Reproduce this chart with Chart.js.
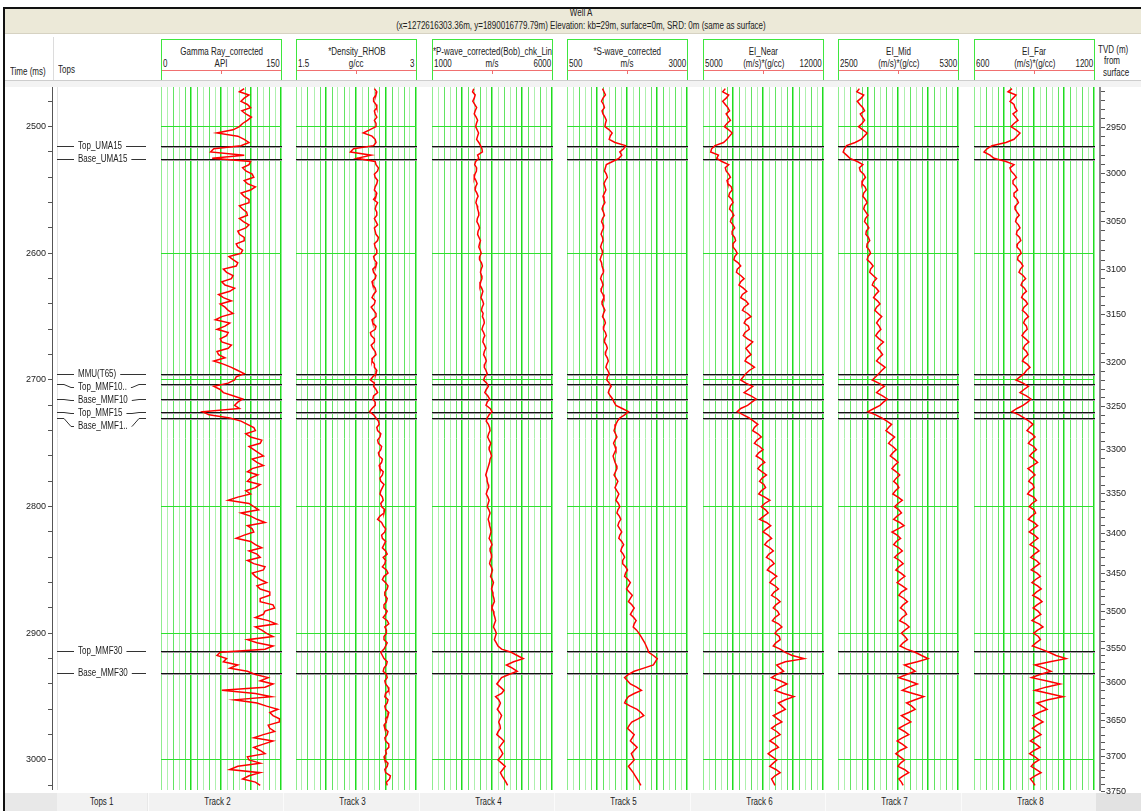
<!DOCTYPE html>
<html>
<head>
<meta charset="utf-8">
<script src="https://cdn.jsdelivr.net/npm/chart.js@4.4.1/dist/chart.umd.min.js"></script>
<style>
  body { margin: 0; background: #fff; }
  #page { position: relative; width: 1141px; height: 811px; overflow: hidden; background: #fff;
          font-family: "Liberation Sans", Arial, sans-serif; font-size: 10px; color: #222; }
  #page div, #page canvas { position: absolute; }
  #page div { white-space: nowrap; line-height: 12px; }
  #page span { display: inline-block; transform: scaleX(0.8); }
</style>
</head>
<body>
<div id="page"></div>
<script>
// two-way time samples (ms) shared by all logs
const times = [
  2470,2472.5,2475,2477.5,2480,2482.5,2485,2487.5,2490,2492.5,2495,2497.5,2500,2502.5,2505,2507.5,2510,2512.5,2515,2517.5,
  2520,2522.5,2525,2527.5,2530,2532.5,2535,2537.5,2540,2542.5,2545,2547.5,2550,2552.5,2555,2557.5,2560,2562.5,2565,2567.5,
  2570,2572.5,2575,2577.5,2580,2582.5,2585,2587.5,2590,2592.5,2595,2597.5,2600,2602.5,2605,2607.5,2610,2612.5,2615,2617.5,
  2620,2622.5,2625,2627.5,2630,2632.5,2635,2637.5,2640,2642.5,2645,2647.5,2650,2652.5,2655,2657.5,2660,2662.5,2665,2667.5,
  2670,2672.5,2675,2677.5,2680,2682.5,2685,2687.5,2690,2692.5,2695,2697.5,2700,2702.5,2705,2707.5,2710,2712.5,2715,2717.5,
  2720,2722.5,2725,2727.5,2730,2732.5,2735,2737.5,2740,2742.5,2745,2747.5,2750,2752.5,2755,2757.5,2760,2762.5,2765,2767.5,
  2770,2772.5,2775,2777.5,2780,2782.5,2785,2787.5,2790,2792.5,2795,2797.5,2800,2802.5,2805,2807.5,2810,2812.5,2815,2817.5,
  2820,2822.5,2825,2827.5,2830,2832.5,2835,2837.5,2840,2842.5,2845,2847.5,2850,2852.5,2855,2857.5,2860,2862.5,2865,2867.5,
  2870,2872.5,2875,2877.5,2880,2882.5,2885,2887.5,2890,2892.5,2895,2897.5,2900,2902.5,2905,2907.5,2910,2912.5,2915,2917.5,
  2920,2922.5,2925,2927.5,2930,2932.5,2935,2937.5,2940,2942.5,2945,2947.5,2950,2952.5,2955,2957.5,2960,2962.5,2965,2967.5,
  2970,2972.5,2975,2977.5,2980,2982.5,2985,2987.5,2990,2992.5,2995,2997.5,3000,3002.5,3005,3007.5,3010,3012.5,3015,3017.5,
  3020
];

const gammaRay = [
  104,98,110,104,100,108,112,101,106,113,108,102,98,90,70,96,104,110,100,66,
  62,104,64,112,110,102,106,114,116,104,108,118,112,100,104,110,110,98,102,107,
  108,98,103,110,106,96,98,104,104,94,96,102,100,85,90,96,94,78,82,90,
  88,76,80,92,86,72,78,88,74,80,84,90,76,68,86,80,70,84,82,74,
  76,88,84,70,72,80,66,78,88,96,104,94,92,84,66,74,78,90,102,96,
  92,98,52,60,86,100,108,116,118,106,112,126,124,110,116,122,128,114,120,128,
  114,108,121,112,108,124,118,106,112,96,84,110,116,122,100,112,120,130,108,114,
  116,104,94,112,118,126,110,120,124,108,116,130,128,114,118,124,132,120,124,136,
  136,124,124,140,142,130,128,118,134,144,118,126,132,140,108,120,140,130,74,70,
  82,78,96,86,108,118,134,124,140,130,76,118,138,92,120,132,146,136,140,148,
  148,134,136,142,128,116,140,128,116,124,130,108,110,124,96,86,124,110,102,118,
  124
];

const density = [
  2.48,2.51,2.50,2.47,2.47,2.50,2.51,2.48,2.49,2.51,2.48,2.50,2.50,2.42,2.34,2.45,2.49,2.50,2.47,2.22,
  2.18,2.44,2.26,2.49,2.50,2.53,2.52,2.48,2.49,2.52,2.51,2.49,2.48,2.51,2.50,2.47,2.52,2.50,2.49,2.51,
  2.51,2.48,2.50,2.52,2.48,2.49,2.50,2.53,2.52,2.48,2.49,2.51,2.51,2.47,2.48,2.51,2.50,2.46,2.47,2.50,
  2.49,2.45,2.46,2.49,2.50,2.47,2.45,2.49,2.48,2.44,2.47,2.50,2.50,2.45,2.46,2.50,2.49,2.43,2.44,2.48,
  2.48,2.44,2.46,2.49,2.50,2.46,2.45,2.48,2.48,2.51,2.50,2.46,2.43,2.48,2.47,2.50,2.52,2.47,2.46,2.49,
  2.49,2.45,2.42,2.47,2.50,2.53,2.54,2.51,2.52,2.56,2.55,2.52,2.53,2.57,2.56,2.53,2.54,2.58,2.57,2.54,
  2.55,2.59,2.58,2.55,2.56,2.60,2.58,2.56,2.55,2.58,2.59,2.56,2.57,2.61,2.60,2.55,2.52,2.57,2.59,2.62,
  2.61,2.57,2.58,2.62,2.60,2.58,2.62,2.64,2.59,2.62,2.61,2.58,2.63,2.65,2.60,2.58,2.62,2.65,2.64,2.61,
  2.61,2.64,2.63,2.60,2.60,2.64,2.62,2.59,2.64,2.66,2.61,2.63,2.63,2.60,2.60,2.64,2.62,2.60,2.56,2.58,
  2.60,2.64,2.63,2.60,2.59,2.63,2.64,2.61,2.62,2.65,2.66,2.62,2.61,2.65,2.64,2.61,2.62,2.66,2.65,2.62,
  2.63,2.60,2.61,2.65,2.64,2.61,2.62,2.66,2.66,2.62,2.63,2.60,2.61,2.65,2.64,2.61,2.62,2.68,2.67,2.63,
  2.64
];

const pWave = [
  2740,2690,2800,2760,2700,2780,2860,2800,2760,2840,2900,2850,2820,2880,2940,2900,2860,2950,3020,3080,
  3100,2900,2950,2820,2780,2860,2850,2790,2760,2830,2880,2820,2800,2870,2920,2860,2830,2880,2900,2940,
  2950,2890,2870,2940,2980,2920,2900,2960,3020,2980,2950,3010,3050,2990,2980,3060,3100,3050,3020,3060,
  3080,3030,3000,3070,3120,3080,3040,3110,3150,3090,3060,3130,3100,3160,3180,3120,3080,3150,3200,3140,
  3120,3190,3240,3180,3150,3220,3260,3200,3180,3250,3300,3200,3150,3280,3350,3260,3200,3320,3400,3300,
  3250,3420,3500,3380,3300,3260,3350,3400,3420,3360,3320,3380,3450,3400,3380,3440,3480,3420,3400,3360,
  3320,3280,3240,3290,3300,3340,3360,3300,3260,3330,3380,3340,3300,3370,3420,3380,3340,3380,3400,3440,
  3460,3420,3380,3450,3500,3440,3420,3470,3480,3430,3400,3470,3520,3480,3440,3510,3560,3520,3480,3530,
  3540,3580,3600,3540,3500,3560,3580,3620,3650,3600,3560,3630,3680,3640,3600,3680,3750,3900,4300,4550,
  4800,4400,4100,4350,4550,4200,3900,3800,3700,3850,4000,3900,3650,3780,3850,3800,3720,3820,3900,3840,
  3780,3830,3850,3760,3700,3860,4000,3900,3800,3880,3950,3860,3750,3900,4050,3950,3850,3920,4000,4080,
  4150
];

const sWave = [
  1240,1270,1300,1250,1220,1260,1280,1230,1250,1290,1320,1300,1290,1380,1440,1400,1380,1500,1720,1680,
  1600,1640,1580,1450,1320,1300,1280,1320,1340,1300,1270,1290,1310,1280,1250,1270,1290,1250,1230,1260,
  1280,1240,1220,1250,1260,1230,1210,1240,1250,1220,1200,1230,1240,1210,1190,1220,1230,1250,1260,1220,
  1200,1230,1250,1220,1210,1250,1270,1240,1230,1260,1290,1260,1240,1280,1300,1270,1260,1300,1320,1290,
  1280,1320,1340,1310,1300,1340,1360,1330,1310,1350,1380,1340,1330,1380,1420,1380,1360,1400,1450,1480,
  1520,1650,1780,1700,1600,1550,1520,1500,1480,1510,1540,1500,1470,1500,1520,1490,1460,1480,1500,1530,
  1540,1510,1480,1520,1560,1530,1500,1540,1580,1550,1520,1570,1600,1560,1540,1590,1620,1580,1560,1600,
  1640,1600,1580,1640,1680,1640,1620,1670,1700,1660,1660,1720,1760,1720,1700,1770,1820,1780,1740,1800,
  1860,1820,1780,1850,1900,1860,1820,1890,1940,1900,1880,1950,2000,2040,2080,2120,2150,2180,2200,2300,
  2380,2340,2300,2100,1900,1780,1700,1760,1820,1950,2050,1900,1780,1730,1700,1820,1960,2040,2100,1980,
  1850,1800,1760,1830,1900,1860,1820,1890,1960,1900,1840,1870,1900,1840,1780,1830,1880,1920,1960,2000,
  2040
];

const eiNear = [
  6300,6150,6500,6350,6150,6300,6450,6550,6350,6480,6600,6400,6250,6500,6700,6550,6400,6200,5700,5500,
  5450,5900,5800,6100,6500,6300,6350,6500,6600,6400,6450,6650,6700,6550,6500,6680,6750,6600,6550,6700,
  6800,6650,6600,6750,6850,6700,6700,6850,6900,6750,6750,6900,7000,6850,6800,7050,7200,7000,6950,7200,
  7400,7200,7100,7350,7550,7300,7200,7500,7650,7400,7300,7600,7800,7500,7400,7650,7700,7450,7350,7600,
  7900,7700,7500,7650,7800,7550,7450,7750,8000,7700,7500,7350,7200,7500,7900,7650,7400,7800,8100,7850,
  7600,7200,7000,7350,7700,7950,8200,8000,7900,8200,8400,8150,8000,8300,8500,8250,8100,8400,8600,8350,
  8200,8450,8700,8450,8300,8550,8650,8400,8250,8600,8900,8600,8400,8650,8800,8550,8300,8700,8950,8700,
  8500,8800,9000,8750,8600,8900,9100,8850,8700,9000,9150,8900,8750,9050,9300,9050,8900,9200,9400,9150,
  9000,9300,9500,9250,9100,9350,9450,9200,9050,9400,9600,9350,9200,9450,9500,9250,9100,9500,9800,10200,
  10900,9800,9300,9500,9700,9300,9000,9500,9900,9500,9200,9700,10300,9800,9400,9600,9800,9450,9100,9350,
  9600,9250,9000,9300,9500,9150,8900,9200,9400,9050,8800,9050,9300,9100,8900,9250,9500,9200,9000,9100,
  9200
];

const eiMid = [
  3000,2940,3100,3040,2950,3010,3080,3120,3020,3070,3120,3060,2980,3080,3180,3110,3040,2900,2700,2650,
  2620,2700,2780,2950,3080,3000,3020,3100,3140,3080,3060,3130,3160,3100,3080,3140,3180,3120,3100,3150,
  3200,3140,3120,3180,3220,3160,3150,3210,3240,3180,3170,3230,3260,3200,3180,3260,3320,3260,3240,3320,
  3400,3330,3300,3390,3450,3380,3330,3420,3480,3400,3360,3440,3520,3450,3400,3460,3500,3430,3380,3460,
  3560,3480,3420,3490,3540,3460,3400,3500,3600,3520,3450,3380,3300,3450,3580,3480,3400,3540,3650,3560,
  3480,3340,3200,3380,3520,3640,3750,3680,3620,3720,3820,3740,3680,3780,3860,3780,3720,3820,3900,3820,
  3760,3860,3940,3860,3800,3880,3920,3840,3780,3900,4000,3900,3820,3920,3980,3880,3800,3940,4040,3900,
  3760,3880,3960,3860,3800,3920,4000,3900,3820,3940,4020,3920,3850,3970,4060,3960,3880,4000,4100,3980,
  3920,4040,4120,4020,3960,4060,4100,4000,3940,4080,4160,4060,3980,4060,4120,4020,3950,4100,4300,4450,
  4600,4350,4050,4200,4300,4100,3920,4150,4350,4150,4000,4250,4500,4300,4100,4220,4300,4150,3980,4100,
  4200,4050,3920,4050,4150,4000,3880,4000,4100,3950,3850,3950,4050,3960,3900,4050,4150,4020,3920,3980,
  4020
];

const eiFar = [
  790,770,810,795,780,800,805,815,795,808,820,800,785,810,830,815,800,760,690,665,
  650,680,700,760,800,780,785,800,812,795,795,810,818,800,800,815,822,808,805,815,
  826,812,808,822,830,815,812,828,834,818,815,830,836,820,818,835,845,832,825,845,
  858,842,835,852,862,845,838,858,868,850,842,860,872,855,848,862,866,850,840,858,
  874,855,846,862,870,852,842,866,880,862,850,830,810,845,872,850,830,862,885,868,
  845,815,790,825,850,875,895,878,865,890,905,885,872,898,912,892,878,900,918,895,
  870,890,905,885,874,895,900,880,868,898,912,890,876,900,908,888,872,900,918,895,
  876,902,920,898,880,908,925,902,884,912,928,905,886,915,932,908,890,918,936,912,
  894,922,940,915,896,920,934,910,890,925,945,918,898,922,932,910,892,935,975,1010,
  1060,980,905,950,985,930,888,960,1030,960,905,975,1045,970,915,940,965,925,895,920,
  945,915,892,915,935,905,882,910,930,900,878,905,925,900,886,910,935,905,882,895,
  905
];

const trackSeries = [gammaRay, density, pWave, sWave, eiNear, eiMid, eiFar];
const trackNames = ['Gamma Ray_corrected', '*Density_RHOB', '*P-wave_corrected(Bob)_chk_Lin',
  '*S-wave_corrected', 'EI_Near', 'EI_Mid', 'EI_Far'];
const trackUnits = ['API', 'g/cc', 'm/s', 'm/s', '(m/s)*(g/cc)', '(m/s)*(g/cc)', '(m/s)*(g/cc)'];
const trackMin = [0, 1.5, 1000, 500, 5000, 2500, 600];
const trackMax = [150, 3, 6000, 3000, 12000, 5300, 1200];
const footerNames = ['Track 2', 'Track 3', 'Track 4', 'Track 5', 'Track 6', 'Track 7', 'Track 8'];

const topNames = ['Top_UMA15', 'Base_UMA15', 'MMU(T65)', 'Top_MMF10..', 'Base_MMF10',
  'Top_MMF15', 'Base_MMF1..', 'Top_MMF30', 'Base_MMF30'];
const topTimes = [2515.3, 2525.7, 2695.4, 2703.3, 2715.2, 2725.0, 2729.7, 2913.9, 2931.0];

const timeLabels = [2500, 2600, 2700, 2800, 2900, 3000];
const tvdLabels = [2950, 3000, 3050, 3100, 3150, 3200, 3250, 3300, 3350, 3400, 3450,
  3500, 3550, 3600, 3650, 3700, 3750];
const tvdTimes = [2500.8, 2536.8, 2574.7, 2613.1, 2648.6, 2686.5, 2721.0, 2755.2, 2789.9,
  2821.5, 2853.1, 2882.9, 2912.3, 2939.2, 2968.9, 2997.4, 3025.0];

// ---- layout ----
const timeMin = 2468.7, timeMax = 3023.7;
const plotTop = 87, plotH = 703;
const trackLeft = [161, 296, 432, 567, 703, 838, 974];
const trackW = 120;
const squeeze = 0.8;
const fontFamily = '"Liberation Sans", Arial, sans-serif';
const font = '10px ' + fontFamily;
Chart.defaults.font.family = fontFamily;
Chart.defaults.font.size = 9;
Chart.defaults.color = '#222';

const page = document.getElementById('page');

function box(x, y, w, h, style) {
  const d = document.createElement('div');
  d.style.cssText = `left:${x}px;top:${y}px;width:${w}px;height:${h}px;` + (style || '');
  page.appendChild(d);
  return d;
}

function label(x, y, w, str, align, h, style) {
  align = align || 'left';
  const d = box(x, y, w, h || 12, `text-align:${align};` + (h ? `line-height:${h}px;` : '') + (style || ''));
  const s = document.createElement('span');
  s.textContent = str;
  s.style.transformOrigin = align + ' center';
  d.appendChild(s);
  return d;
}

function makeCanvas(x, y, w, h) {
  const c = document.createElement('canvas');
  c.width = w; c.height = h;
  c.style.cssText = `left:${x}px;top:${y}px;width:${w}px;height:${h}px;`;
  page.appendChild(c);
  return c;
}

// window frame + title band
box(3, 7, 1138, 2, 'background:#111');
box(3, 7, 2, 804, 'background:#111');
box(5, 9, 1136, 24, 'background:#ece9d8');
box(5, 33, 1136, 1, 'background:#d6d2c2');
label(481, 7, 200, 'Well A', 'center');
label(181, 20, 800, '(x=1272616303.36m, y=1890016779.79m) Elevation: kb=29m, surface=0m, SRD: 0m (same as surface)', 'center');

// header row
box(53, 37, 1, 43, 'background:#dcdcdc');
label(10, 66, 50, 'Time (ms)');
label(58, 64, 40, 'Tops');
label(1098, 44, 43, 'TVD (m)');
label(1104, 55, 37, 'from');
label(1103, 67, 38, 'surface');
box(5, 80, 1136, 6, 'background:#f3f3f3;border-top:1px solid #cdcdcd');

trackNames.forEach((name, k) => {
  const L = trackLeft[k];
  box(L, 39, trackW + 1, 41, 'box-sizing:border-box;border:1px solid #3ee63e;border-bottom:none');
  label(L - 60, 46, trackW + 121, name, 'center');
  label(L + 2, 58, 50, String(trackMin[k]));
  label(L - 60, 58, trackW + 121, trackUnits[k], 'center');
  label(L + trackW - 51, 58, 50, String(trackMax[k]), 'right');
  box(L + 1, 70, trackW - 1, 1, 'background:#f07070');
  box(L + trackW / 2, 70, 1, 4, 'background:#f07070');
});

// footer
box(5, 793, 1136, 18, 'background:#e8e8e8');
label(57, 793, 90, 'Tops 1', 'center', 18, 'background:#f2f2f2');
footerNames.forEach((name, k) => {
  label(trackLeft[k] - 13, 793, 134, name, 'center', 18, 'background:#f2f2f2;border-left:1px solid #fbfbfb;padding-left:1px');
});
box(1096, 793, 45, 18, 'background:#e2e2e2');

// black marker lines across every track
const topsLines = {
  id: 'topsLines',
  beforeDatasetsDraw(chart) {
    const { ctx, chartArea: a, scales: { y } } = chart;
    ctx.save();
    ctx.lineWidth = 1;
    topTimes.forEach(t => {
      const py = Math.round(y.getPixelForValue(t)) + 0.5;
      ctx.strokeStyle = '#a0a0a0';
      ctx.beginPath(); ctx.moveTo(a.left, py + 1); ctx.lineTo(a.right + 1, py + 1); ctx.stroke();
      ctx.strokeStyle = '#111';
      ctx.beginPath(); ctx.moveTo(a.left, py); ctx.lineTo(a.right + 1, py); ctx.stroke();
    });
    ctx.restore();
  }
};

// well tops labels with leader lines
const topsLabels = {
  id: 'topsLabels',
  afterDraw(chart) {
    const { ctx, chartArea: a, scales: { y } } = chart;
    ctx.save();
    ctx.font = font;
    ctx.textBaseline = 'middle';
    ctx.lineWidth = 1;
    ctx.strokeStyle = '#e2e2e2';
    ctx.beginPath(); ctx.moveTo(a.left + 5.5, a.top); ctx.lineTo(a.left + 5.5, a.bottom); ctx.stroke();
    ctx.strokeStyle = '#333';
    ctx.fillStyle = '#222';
    let prev = -Infinity;
    topNames.forEach((name, i) => {
      const ly = Math.round(y.getPixelForValue(topTimes[i])) + 0.5;
      const ty = Math.max(ly, prev + 13);
      prev = ty;
      const w = ctx.measureText(name).width * squeeze;
      const x0 = a.left + 5, xt = a.left + 26, x1 = a.left + 94;
      ctx.beginPath();
      ctx.moveTo(x0, ly); ctx.lineTo(x0 + 7, ly); ctx.lineTo(x0 + 14, ty); ctx.lineTo(xt - 4, ty);
      ctx.moveTo(xt + w + 4, ty); ctx.lineTo(x1 - 14, ty); ctx.lineTo(x1 - 7, ly); ctx.lineTo(x1, ly);
      ctx.stroke();
      ctx.save();
      ctx.translate(xt, ty);
      ctx.scale(squeeze, 1);
      ctx.fillText(name, 0, 0);
      ctx.restore();
    });
    ctx.restore();
  }
};

const baseOptions = () => ({
  responsive: false,
  animation: false,
  events: [],
  devicePixelRatio: 1,
  plugins: { legend: { display: false }, tooltip: { enabled: false } }
});

// log tracks
trackSeries.forEach((vals, k) => {
  const lo = trackMin[k], hi = trackMax[k];
  const cv = makeCanvas(trackLeft[k], plotTop, trackW + 1, plotH);
  const opts = baseOptions();
  opts.layout = { padding: { right: 1 } };
  opts.scales = {
    x: {
      type: 'linear', min: lo, max: hi,
      border: { display: false },
      ticks: { display: false },
      afterBuildTicks: s => {
        const tk = [];
        for (let i = 0; i <= 20; i++) tk.push({ value: lo + (hi - lo) * i / 20 });
        s.ticks = tk;
      },
      grid: {
        drawTicks: false,
        color: c => c.index % 5 === 0 ? '#1fdc1f' : (c.index % 2 ? '#aef0ae' : '#62e462'),
        lineWidth: c => c.index % 5 === 0 ? 1.5 : 1
      }
    },
    y: {
      type: 'linear', reverse: true, min: timeMin, max: timeMax,
      border: { display: false },
      ticks: { display: false },
      afterBuildTicks: s => { s.ticks = timeLabels.map(v => ({ value: v })); },
      grid: { drawTicks: false, color: '#2fe02f' }
    }
  };
  new Chart(cv, {
    type: 'scatter',
    data: {
      datasets: [{
        data: times.map((t, i) => ({ x: vals[i], y: t })),
        showLine: true,
        borderColor: '#ff0000',
        borderWidth: 1.5,
        pointRadius: 0,
        tension: 0
      }]
    },
    options: opts,
    plugins: [topsLines]
  });
});

// time axis + tops column
{
  const cv = makeCanvas(0, plotTop, 158, plotH);
  const opts = baseOptions();
  opts.scales = {
    x: { display: false, min: 0, max: 1 },
    y: {
      type: 'linear', position: 'left', reverse: true, min: timeMin, max: timeMax,
      afterBuildTicks: s => {
        const tk = [];
        for (let v = timeLabels[0] - 20; v <= timeMax; v += 20) tk.push({ value: v });
        s.ticks = tk;
      },
      afterFit: s => { s.width = 52; s.paddingTop = 0; s.paddingBottom = 0; },
      border: { color: '#555', width: 1 },
      grid: { drawOnChartArea: false, tickLength: 4, color: '#555' },
      ticks: {
        autoSkip: false, padding: 2, color: '#222',
        callback: v => timeLabels.includes(v) ? String(v) : ''
      }
    }
  };
  new Chart(cv, { type: 'scatter', data: { datasets: [] }, options: opts, plugins: [topsLabels] });
}

// TVD axis (non-linear in time)
{
  const tvdTicks = [];
  const slope0 = (tvdTimes[1] - tvdTimes[0]) / (tvdLabels[1] - tvdLabels[0]);
  for (let d = tvdLabels[0] - 40; d < tvdLabels[0]; d += 10) {
    tvdTicks.push({ d, t: tvdTimes[0] - (tvdLabels[0] - d) * slope0 });
  }
  for (let k = 0; k < tvdLabels.length - 1; k++) {
    for (let m = 0; m < 5; m++) {
      tvdTicks.push({ d: tvdLabels[k] + m * 10, t: tvdTimes[k] + (tvdTimes[k + 1] - tvdTimes[k]) * m / 5 });
    }
  }
  tvdTicks.push({ d: tvdLabels[tvdLabels.length - 1], t: tvdTimes[tvdTimes.length - 1] });
  const shown = tvdTicks.filter(o => o.t >= timeMin);

  const cv = makeCanvas(1090, plotTop, 51, plotH + 8);
  const opts = baseOptions();
  opts.layout = { padding: { bottom: 8 } };
  opts.scales = {
    x: { display: false, min: 0, max: 1 },
    y: {
      type: 'linear', position: 'right', reverse: true, min: timeMin, max: timeMax,
      afterBuildTicks: s => { s.ticks = shown.map(o => ({ value: o.t })); },
      afterFit: s => { s.width = 41; s.paddingTop = 0; s.paddingBottom = 0; },
      border: { color: '#8a8a8a', width: 2 },
      grid: { drawOnChartArea: false, tickLength: 5, color: '#555' },
      ticks: {
        autoSkip: false, padding: 1, color: '#222',
        callback: (v, i) => shown[i] && shown[i].d % 50 === 0 ? String(shown[i].d) : ''
      }
    }
  };
  new Chart(cv, { type: 'scatter', data: { datasets: [] }, options: opts });
}
</script>
</body>
</html>
